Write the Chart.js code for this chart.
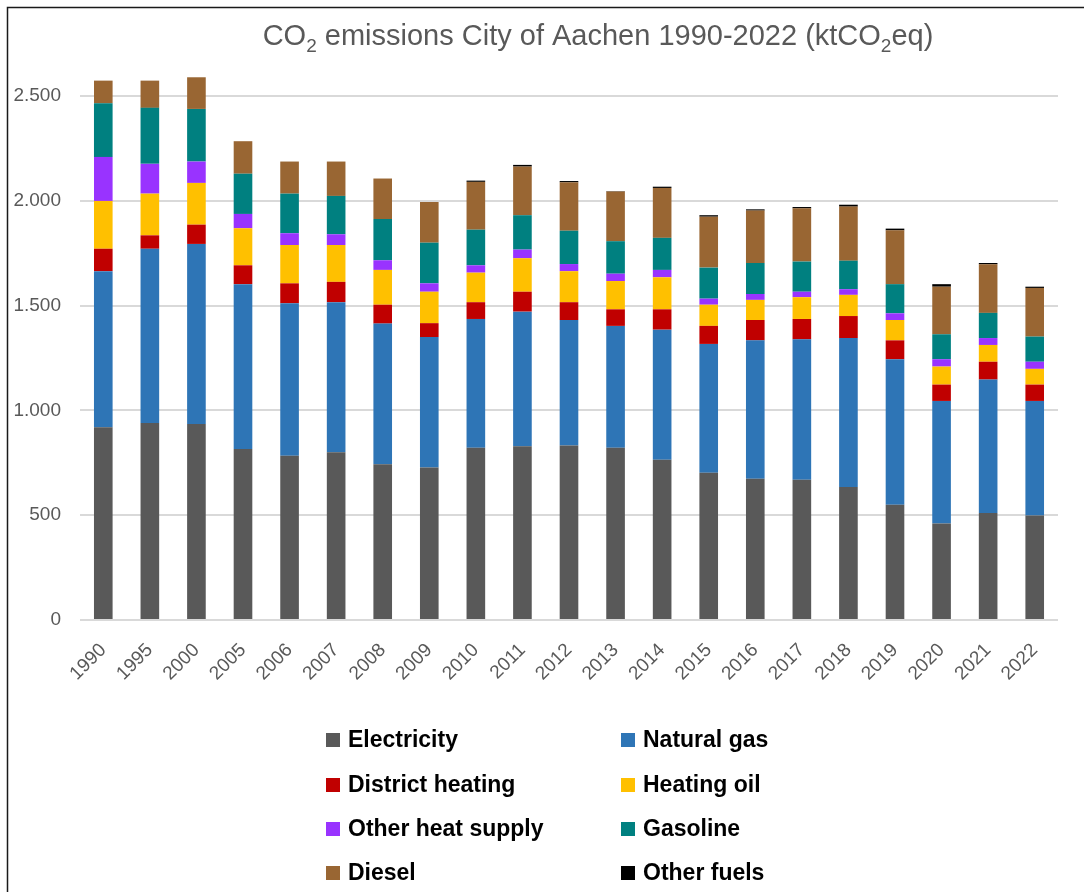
<!DOCTYPE html>
<html>
<head>
<meta charset="utf-8">
<title>CO2 emissions City of Aachen 1990-2022</title>
<script src="https://cdn.jsdelivr.net/npm/chart.js@4.4.1/dist/chart.umd.min.js"></script>
<style>
  html, body { margin: 0; padding: 0; background: #ffffff; }
  #wrap { position: relative; width: 1084px; height: 892px; }
</style>
</head>
<body>
<div id="wrap"><canvas id="chart"></canvas></div>
<script>
// Emissions by energy carrier, ktCO2eq
const years = ['1990','1995','2000','2005','2006','2007','2008','2009','2010','2011','2012','2013','2014','2015','2016','2017','2018','2019','2020','2021','2022'];
const electricity     = [919, 940, 935, 816, 784, 800, 743, 727, 822, 829, 833, 822, 765, 703, 674, 669, 635, 550, 460, 511, 498];
const naturalGas      = [745, 831, 859, 786, 727, 716, 671, 623, 614, 642, 598, 581, 620, 614, 660, 670, 710, 694, 585, 636, 547];
const districtHeating = [107,  64,  92,  90,  95,  97,  90,  66,  80,  95,  85,  79,  97,  86,  97,  97, 105,  90,  78,  85,  78];
const heatingOil      = [228, 199, 199, 177, 183, 176, 166, 150, 141, 160, 148, 135, 153, 101,  96, 104, 101,  97,  86,  80,  75];
const otherHeatSupply = [210, 142, 102,  68,  56,  51,  46,  40,  35,  41,  34,  35,  35,  29,  28,  26,  27,  32,  35,  33,  34];
const gasoline        = [256, 267, 251, 192, 189, 183, 197, 194, 170, 164, 159, 155, 153, 148, 148, 144, 136, 139, 119, 120, 120];
const diesel          = [108, 130, 151, 155, 153, 164, 193, 194, 228, 232, 231, 237, 238, 243, 250, 254, 258, 257, 227, 232, 232];
const otherFuels      = [  0,   0,   0,   0,   0,   0,   0,   0,   6,   8,   6,   2,   6,   7,   6,   6,   9,   8,  12,   6,   6];

const seriesNames = ['Electricity', 'Natural gas', 'District heating', 'Heating oil', 'Other heat supply', 'Gasoline', 'Diesel', 'Other fuels'];
const seriesData = [electricity, naturalGas, districtHeating, heatingOil, otherHeatSupply, gasoline, diesel, otherFuels];
const seriesColors = ['#595959', '#2E75B6', '#C00000', '#FFC000', '#9933FF', '#008080', '#996633', '#000000'];

const yTicks = [0, 500, 1000, 1500, 2000, 2500];
const yMax = 2700;

const FONT = '"Liberation Sans", Arial, sans-serif';
const TEXT_GREY = '#595959';

function thousands(v) {
  return String(v).replace(/\B(?=(\d{3})+(?!\d))/g, '.');
}

// Frame, title with subscripts, and a two-column legend
const decorations = {
  id: 'decorations',
  beforeDraw(chart) {
    const ctx = chart.ctx;
    ctx.save();
    ctx.strokeStyle = '#1a1a1a';
    ctx.lineWidth = 1.5;
    ctx.beginPath();
    ctx.moveTo(7.5, chart.height + 5);
    ctx.lineTo(7.5, 7.5);
    ctx.lineTo(chart.width + 5, 7.5);
    ctx.stroke();
    ctx.restore();
  },
  afterDraw(chart) {
    const ctx = chart.ctx;
    ctx.save();
    // title
    const big = 29, small = 19;
    const parts = [
      ['CO', false], ['2', true], [' emissions City of Aachen 1990-2022 (ktCO', false], ['2', true], ['eq)', false]
    ];
    let total = 0;
    parts.forEach(([t, sub]) => {
      ctx.font = (sub ? small : big) + 'px ' + FONT;
      total += ctx.measureText(t).width;
    });
    let x = 598 - total / 2;
    const base = 45;
    ctx.fillStyle = TEXT_GREY;
    ctx.textBaseline = 'alphabetic';
    ctx.textAlign = 'left';
    parts.forEach(([t, sub]) => {
      ctx.font = (sub ? small : big) + 'px ' + FONT;
      ctx.fillText(t, x, sub ? base + 7 : base);
      x += ctx.measureText(t).width;
    });

    // legend
    const colX = [326, 621];
    const rowY = [740, 785, 829, 873];
    ctx.font = 'bold 23px ' + FONT;
    ctx.textBaseline = 'middle';
    chart.data.datasets.forEach((ds, i) => {
      const cx = colX[i % 2];
      const cy = rowY[Math.floor(i / 2)];
      ctx.fillStyle = ds.backgroundColor;
      ctx.fillRect(cx, cy - 7, 14, 14);
      ctx.fillStyle = '#000000';
      ctx.fillText(ds.label, cx + 22, cy + 1);
    });
    ctx.restore();
  }
};

new Chart(document.getElementById('chart'), {
  type: 'bar',
  data: {
    labels: years,
    datasets: seriesNames.map((name, i) => ({
      label: name,
      data: seriesData[i],
      backgroundColor: seriesColors[i],
      borderWidth: 0,
      categoryPercentage: 1.0,
      barPercentage: 0.4
    }))
  },
  options: {
    responsive: true,
    maintainAspectRatio: false,
    animation: false,
    layout: { padding: { top: 54, right: 26, left: 0, bottom: 0 } },
    plugins: {
      legend: { display: false },
      title: { display: false },
      tooltip: { enabled: false }
    },
    scales: {
      x: {
        stacked: true,
        grid: { display: false },
        border: { display: false },
        ticks: {
          color: TEXT_GREY,
          font: { family: FONT, size: 19 },
          minRotation: 45,
          maxRotation: 45,
          padding: 11,
          autoSkip: false
        },
        afterFit(scale) { scale.height = 272; }
      },
      y: {
        stacked: true,
        min: 0,
        max: yMax,
        afterBuildTicks(scale) {
          scale.ticks = yTicks.map(v => ({ value: v }));
        },
        grid: { color: '#d9d9d9', lineWidth: 2, drawTicks: false },
        border: { display: false },
        ticks: {
          color: TEXT_GREY,
          font: { family: FONT, size: 19 },
          padding: 19,
          callback: (v) => thousands(v)
        },
        afterFit(scale) { scale.width = 80; }
      }
    }
  },
  plugins: [decorations]
});
</script>
</body>
</html>
